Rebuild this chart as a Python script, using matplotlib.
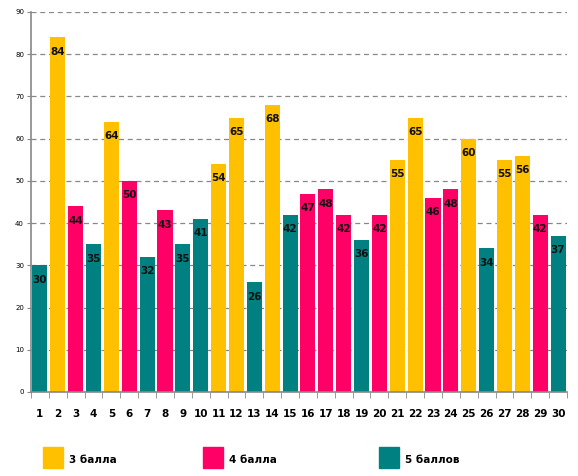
import matplotlib
matplotlib.use("Agg")
import matplotlib.pyplot as plt
from matplotlib.patches import Rectangle

categories = [str(i) for i in range(1, 31)]
values = [30, 84, 44, 35, 64, 50, 32, 43, 35, 41, 54, 65, 26, 68, 42,
          47, 48, 42, 36, 42, 55, 65, 46, 48, 60, 34, 55, 56, 42, 37]
grades = [5, 3, 4, 5, 3, 4, 5, 4, 5, 5, 3, 3, 5, 3, 5,
          4, 4, 4, 5, 4, 3, 3, 4, 4, 3, 5, 3, 3, 4, 5]
legend_labels = {3: "3 балла", 4: "4 балла", 5: "5 баллов"}
colors = {3: "#FFC000", 4: "#FF0066", 5: "#008080"}

fig = plt.figure(figsize=(5.78, 4.76), dpi=100)
ax = fig.add_axes([31/578, 1-392/476, 536/578, 380/476])

x = list(range(1, 31))
bar_colors = [colors[g] for g in grades]
ax.bar(x, values, width=0.84, color=bar_colors, zorder=2)

for xi, v in zip(x, values):
    ax.text(xi, v - 3.4, str(v), ha="center", va="center", fontsize=7.5,
            fontweight="bold", color="#111111", zorder=3)

ax.set_xlim(0.5, 30.5)
ax.set_ylim(0, 90)
ax.set_yticks(range(0, 91, 10))
ax.yaxis.grid(True, linestyle=(0, (4, 3)), color="#888888", linewidth=0.9, zorder=1)
ax.set_axisbelow(True)
ax.tick_params(axis="y", labelsize=5, length=3, color="#888888", pad=2)

ax.set_xticks(x)
ax.set_xticklabels(categories, fontsize=7.5, fontweight="bold")
ax.set_xticks([i + 0.5 for i in range(0, 31)], minor=True)
ax.tick_params(axis="x", which="major", length=0, pad=12)
ax.tick_params(axis="x", which="minor", length=4, color="#888888")

for s in ["top", "right"]:
    ax.spines[s].set_visible(False)
for s in ["left", "bottom"]:
    ax.spines[s].set_color("#888888")
    ax.spines[s].set_linewidth(1.2)

# legend at bottom
leg_items = [(3, 43), (4, 203), (5, 379)]
for g, px in leg_items:
    rect = Rectangle((px/578, 1-468/476), 20/578, 21/476,
                     transform=fig.transFigure, color=colors[g])
    fig.add_artist(rect)
    fig.text((px + 26)/578, 1-460/476, legend_labels[g], fontsize=7.5,
             fontweight="bold", va="center", ha="left")

fig.savefig("out.png", dpi=100)
